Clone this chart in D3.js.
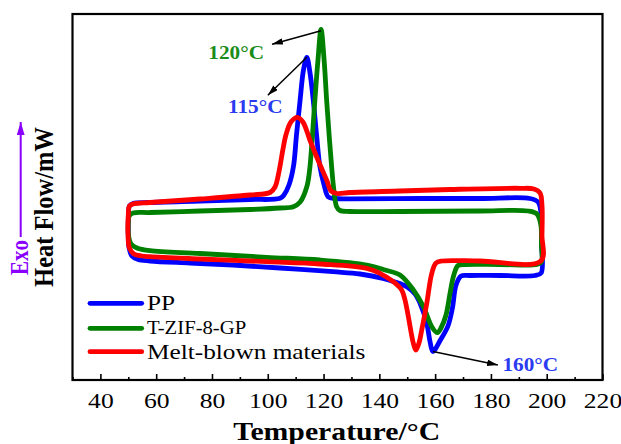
<!DOCTYPE html>
<html>
<head>
<meta charset="utf-8">
<script src="https://cdn.jsdelivr.net/npm/d3@7"></script>
<style>
body { margin: 0; background: #fff; }
svg { display: block; font-family: "Liberation Serif", "Times New Roman", serif; }
</style>
</head>
<body>
<svg width="621" height="444"></svg>
<script>
// DSC loops: cooling trace (upper) from 200 down to 50 C, then heating trace (lower) back to 200 C
var seriesNames = ['PP', 'T-ZIF-8-GP', 'Melt-blown materials'];

var ppTemp = [198.1, 197.9, 196.9, 194.0, 176.1, 154.6, 129.5, 124.1, 121.7, 120.2, 118.7, 117.5, 116.3, 115.1, 114.0, 112.8, 111.6, 110.3, 109.2, 107.6, 105.8, 104.4, 93.6, 75.7, 57.8, 51.7,
              50.4, 50.1, 50.0, 50.3, 51.3, 53.5, 57.8, 72.1, 87.5, 104.4, 123.4, 133.1, 141.3, 145.6, 149.8, 152.8, 154.6, 157.0, 158.2, 159.2, 161.9, 164.6, 166.2, 167.5, 169.3, 172.5, 183.3, 195.8, 198.0];
var ppFlow = [14.0, 16.8, 17.8, 18.15, 18.15, 18.15, 18.12, 18.15, 18.3, 19.5, 21.33, 24.5, 28.0, 30.8, 32.27, 31.0, 28.0, 24.5, 21.33, 19.5, 18.5, 18.17, 18.05, 17.9, 17.75, 17.65,
              17.4, 16.5, 14.5, 13.2, 12.4, 12.05, 11.9, 11.7, 11.5, 11.2, 10.83, 10.6, 10.17, 9.8, 9.33, 8.6, 7.67, 5.67, 3.8, 2.85, 4.0, 5.4, 7.2, 9.5, 10.4, 10.45, 10.45, 10.45, 10.7];

var tzifTemp = [198.1, 197.9, 196.5, 193.3, 176.1, 147.4, 129.5, 125.9, 124.7, 123.7, 122.9, 122.0, 121.1, 120.2, 119.1, 118.0, 116.9, 115.9, 115.0, 114.0, 111.6, 109.2, 104.4, 93.6, 75.7, 57.8, 51.7,
                50.3, 50.0, 50.1, 51.0, 53.1, 57.8, 75.7, 99.6, 118.7, 135.5, 142.0, 147.4, 152.2, 155.8, 158.8, 160.8, 162.1, 163.9, 165.3, 166.6, 168.2, 170.7, 183.3, 196.5, 198.1];
var tzifFlow = [13.5, 15.5, 16.6, 16.9, 16.9, 16.85, 16.85, 16.95, 17.33, 19.0, 21.33, 24.5, 28.0, 32.0, 35.07, 32.0, 28.0, 24.0, 21.0, 19.33, 17.8, 17.33, 17.2, 17.05, 16.9, 16.75, 16.7,
                16.4, 15.5, 14.4, 13.6, 13.2, 12.93, 12.65, 12.27, 12.0, 11.5, 11.0, 10.5, 9.0, 7.33, 5.33, 4.73, 5.2, 6.5, 8.6, 10.4, 11.45, 11.55, 11.55, 11.55, 11.8];

var mbTemp = [198.3, 198.3, 197.6, 195.4, 190.4, 165.3, 147.4, 129.5, 124.8, 122.7, 121.1, 118.0, 115.1, 112.6, 110.6, 108.3, 106.5, 105.4, 104.0, 102.6, 100.8, 93.6, 75.7, 57.8, 51.7,
              50.4, 50.0, 49.9, 50.4, 52.0, 54.9, 57.8, 75.7, 99.6, 118.7, 135.5, 140.2, 145.0, 148.0, 149.2, 150.4, 152.2, 153.1, 154.2, 155.2, 157.0, 158.8, 160.3, 162.4, 176.1, 197.9];
var mbFlow = [14.5, 17.5, 18.7, 19.1, 19.17, 19.05, 18.9, 18.75, 18.65, 18.9, 20.0, 22.0, 24.0, 25.8, 26.27, 25.8, 24.5, 23.0, 20.8, 19.3, 18.75, 18.5, 18.1, 17.75, 17.6,
              17.4, 16.5, 14.5, 13.2, 12.6, 12.4, 12.33, 12.1, 11.83, 11.6, 11.17, 10.67, 9.83, 9.0, 8.0, 6.33, 3.67, 3.0, 3.7, 5.0, 7.67, 10.67, 11.7, 11.9, 11.9, 11.9];

var seriesColors = ['#0000ff', '#008000', '#ff0000'];
var xMajor = d3.range(40, 221, 20);
var xMinor = d3.range(30, 220, 20);
var peakLabels = ['120°C', '115°C', '160°C'];

var svg = d3.select('svg');
var plotLeft = 72.5, plotRight = 602.5, plotTop = 14, plotBottom = 380;
var x = d3.scaleLinear().domain([30, 220]).range([plotLeft, plotRight]);
var y = d3.scaleLinear().domain([0, 36.6]).range([plotBottom, plotTop]);

// the source figure is a little wider than tall, so text is stretched sideways
function stretched(sel, px, py, rot, k) {
    sel.attr('transform', 'translate(' + px + ',' + py + ') scale(' + (k || 1.15) + ',1)' + (rot ? ' rotate(-90)' : ''));
    return sel;
}

var series = [
    { name: seriesNames[0], t: ppTemp, f: ppFlow, color: seriesColors[0] },
    { name: seriesNames[1], t: tzifTemp, f: tzifFlow, color: seriesColors[1] },
    { name: seriesNames[2], t: mbTemp, f: mbFlow, color: seriesColors[2] }
];
series.forEach(function(s) {
    s.points = s.t.map(function(t, i) { return [t, s.f[i]]; });
});

var line = d3.line()
    .x(function(d) { return x(d[0]); })
    .y(function(d) { return y(d[1]); })
    .curve(d3.curveCatmullRomClosed.alpha(0.5));

svg.append('g').selectAll('path.curve').data(series).enter()
    .append('path')
    .attr('class', 'curve')
    .attr('d', function(d) { return line(d.points); })
    .attr('fill', 'none')
    .attr('stroke', function(d) { return d.color; })
    .attr('stroke-width', 4.8)
    .attr('stroke-linejoin', 'round');

// axes: ticks point inward
var gx = svg.append('g').attr('transform', 'translate(0,' + plotBottom + ')');
gx.call(d3.axisBottom(x).tickValues(xMinor).tickSize(-3).tickFormat(''));
var gx2 = svg.append('g').attr('transform', 'translate(0,' + plotBottom + ')');
gx2.call(d3.axisBottom(x).tickValues(xMajor).tickSize(-6).tickFormat(d3.format('d')));
svg.selectAll('.domain').remove();
svg.selectAll('.tick line').attr('stroke', '#000').attr('stroke-width', 1.6);
gx2.selectAll('.tick text')
    .attr('y', null).attr('dy', null)
    .attr('fill', '#000')
    .style('font-size', '21px')
    .style('font-family', '"Liberation Serif", "Times New Roman", serif')
    .attr('transform', 'translate(0,27.5) scale(1.22,1)');

svg.append('rect')
    .attr('x', plotLeft).attr('y', plotTop)
    .attr('width', plotRight - plotLeft).attr('height', plotBottom - plotTop)
    .attr('fill', 'none').attr('stroke', '#000').attr('stroke-width', 2.2);

stretched(svg.append('text'), 336.7, 439.5, false, 1.19)
    .attr('text-anchor', 'middle').attr('font-weight', 'bold').attr('font-size', 25)
    .text('Temperature/°C');

stretched(svg.append('text'), 53, 207, true)
    .attr('text-anchor', 'middle').attr('font-weight', 'bold').attr('font-size', 24.5)
    .text('Heat Flow/mW');

stretched(svg.append('text'), 28, 257.5, true)
    .attr('text-anchor', 'middle').attr('font-weight', 'bold').attr('font-size', 21)
    .attr('fill', '#8a00ff')
    .text('Exo');

var defs = svg.append('defs');
defs.append('marker').attr('id', 'head').attr('markerUnits', 'userSpaceOnUse')
    .attr('viewBox', '0 0 10 6').attr('refX', 10).attr('refY', 3)
    .attr('markerWidth', 11).attr('markerHeight', 6.5).attr('orient', 'auto')
    .append('path').attr('d', 'M0,0L10,3L0,6Z').attr('fill', '#000');
defs.append('marker').attr('id', 'headExo').attr('markerUnits', 'userSpaceOnUse')
    .attr('viewBox', '0 0 10 6').attr('refX', 10).attr('refY', 3)
    .attr('markerWidth', 13).attr('markerHeight', 8).attr('orient', 'auto')
    .append('path').attr('d', 'M0,0L10,3L0,6Z').attr('fill', '#8a00ff');

svg.append('line').attr('x1', 20.7).attr('y1', 237).attr('x2', 20.7).attr('y2', 122)
    .attr('stroke', '#8a00ff').attr('stroke-width', 2).attr('marker-end', 'url(#headExo)');

// peak annotations, tips taken from the data extremes
function extremeIndex(arr, useMax) {
    var best = 0;
    arr.forEach(function(v, i) { if (useMax ? v > arr[best] : v < arr[best]) best = i; });
    return best;
}
var iT = extremeIndex(tzifFlow, true), iP = extremeIndex(ppFlow, true), iD = extremeIndex(ppFlow, false);
var notes = [
    { px: x(tzifTemp[iT]), py: y(tzifFlow[iT]) + 1.5, dx: -49, dy: 13.5, label: peakLabels[0], color: '#1a8c1a', lx: -8, ly: 14.5, anchor: 'end' },
    { px: x(ppTemp[iP]), py: y(ppFlow[iP]), dx: -39, dy: 38, label: peakLabels[1], color: '#2a3af0', lx: -12.5, ly: 17.5, anchor: 'middle' },
    { px: x(ppTemp[iD]), py: y(ppFlow[iD]), dx: 65, dy: 13.5, label: peakLabels[2], color: '#2a3af0', lx: 4.5, ly: 6, anchor: 'start' }
];
notes.forEach(function(n) {
    svg.append('line')
        .attr('x1', n.px).attr('y1', n.py)
        .attr('x2', n.px + n.dx).attr('y2', n.py + n.dy)
        .attr('stroke', '#000').attr('stroke-width', 1.5)
        .attr('marker-end', 'url(#head)');
    stretched(svg.append('text'), n.px + n.dx + n.lx, n.py + n.dy + n.ly, false)
        .attr('text-anchor', n.anchor).attr('font-weight', 'bold').attr('font-size', 18.5)
        .attr('fill', n.color)
        .text(n.label);
});

// legend
var legendY = [303.3, 328.3, 351.7];
var legendSize = [22, 18, 22];
var legend = svg.append('g');
series.forEach(function(s, i) {
    legend.append('line')
        .attr('x1', 90).attr('x2', 141.7)
        .attr('y1', legendY[i]).attr('y2', legendY[i])
        .attr('stroke', s.color).attr('stroke-width', 4.8).attr('stroke-linecap', 'round');
    stretched(legend.append('text'), 147, legendY[i] + legendSize[i] * 0.31, false)
        .attr('font-size', legendSize[i])
        .text(s.name);
});
</script>
</body>
</html>
